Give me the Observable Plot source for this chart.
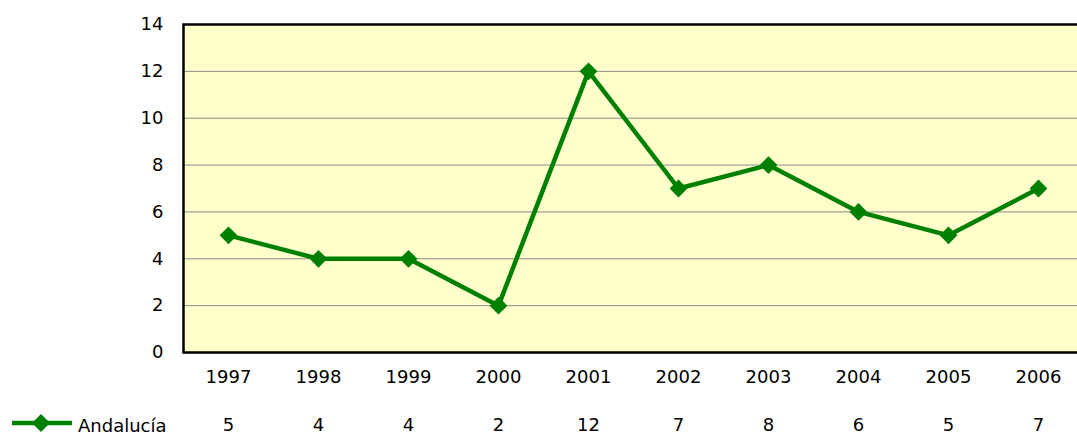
<!DOCTYPE html>
<html>
<head>
<meta charset="utf-8">
<script src="https://cdn.jsdelivr.net/npm/d3@7"></script>
<script src="https://cdn.jsdelivr.net/npm/@observablehq/plot@0.6"></script>
<style>
  html, body { margin: 0; padding: 0; background: #fff; overflow: hidden; }
  #wrap { position: relative; width: 1077px; height: 439px; overflow: hidden; }
  #wrap > svg { max-width: none !important; width: 1083px !important; height: 439px !important; }
  #legend { position: absolute; left: 10px; top: 412px; display: flex; align-items: center;
            font-family: "Comic Sans MS", "DejaVu Sans", sans-serif; font-size: 18px; color: #000; }
</style>
</head>
<body>
<div id="wrap"></div>
<script>
const years = ["1997","1998","1999","2000","2001","2002","2003","2004","2005","2006"];
const andalucia = [5, 4, 4, 2, 12, 7, 8, 6, 5, 7];
const seriesName = "Andalucía";
const yTicks = [0, 2, 4, 6, 8, 10, 12, 14];

const data = years.map((y, i) => ({year: y, value: andalucia[i]}));
const valueByYear = new Map(data.map(d => [d.year, d.value]));
const green = "#008000";
const font = "'Comic Sans MS', 'DejaVu Sans', sans-serif";

const chart = Plot.plot({
  width: 1083,
  height: 439,
  marginLeft: 183,
  marginRight: 0,
  marginTop: 24,
  marginBottom: 87,
  style: {fontFamily: font, fontSize: "18px", background: "transparent", color: "#000", maxWidth: "none"},
  x: {type: "band", domain: years, padding: 0, label: null},
  y: {domain: [0, 14], label: null},
  marks: [
    Plot.frame({fill: "#FFFFCC"}),
    Plot.gridY(yTicks, {stroke: "#8c8c8c", strokeOpacity: 1, strokeWidth: 1}),
    Plot.frame({stroke: "#000", strokeWidth: 2.5}),
    Plot.axisY(yTicks, {tickSize: 0, tickPadding: 20, label: null, fontSize: 18}),
    Plot.axisX({tickSize: 0, tickPadding: 18, label: null, fontSize: 18}),
    Plot.axisX({tickSize: 0, tickPadding: 66, label: null, fontSize: 18, tickFormat: d => String(valueByYear.get(d))}),
    Plot.line(data, {x: "year", y: "value", stroke: green, strokeWidth: 4.5, strokeLinejoin: "miter"}),
    Plot.dot(data, {x: "year", y: "value", symbol: "diamond2", r: 8, fill: green, stroke: "none"})
  ]
});

const wrap = document.getElementById("wrap");
wrap.appendChild(chart);

const legend = document.createElement("div");
legend.id = "legend";
legend.innerHTML = `<svg width="64" height="20" style="margin-right:4px">
  <line x1="2" y1="10" x2="62" y2="10" stroke="${green}" stroke-width="4.5"/>
  <path d="M31,1 L40,10 L31,19 L22,10 Z" fill="${green}"/>
</svg><span style="position:relative;top:3px">${seriesName}</span>`;
wrap.appendChild(legend);
</script>
</body>
</html>
